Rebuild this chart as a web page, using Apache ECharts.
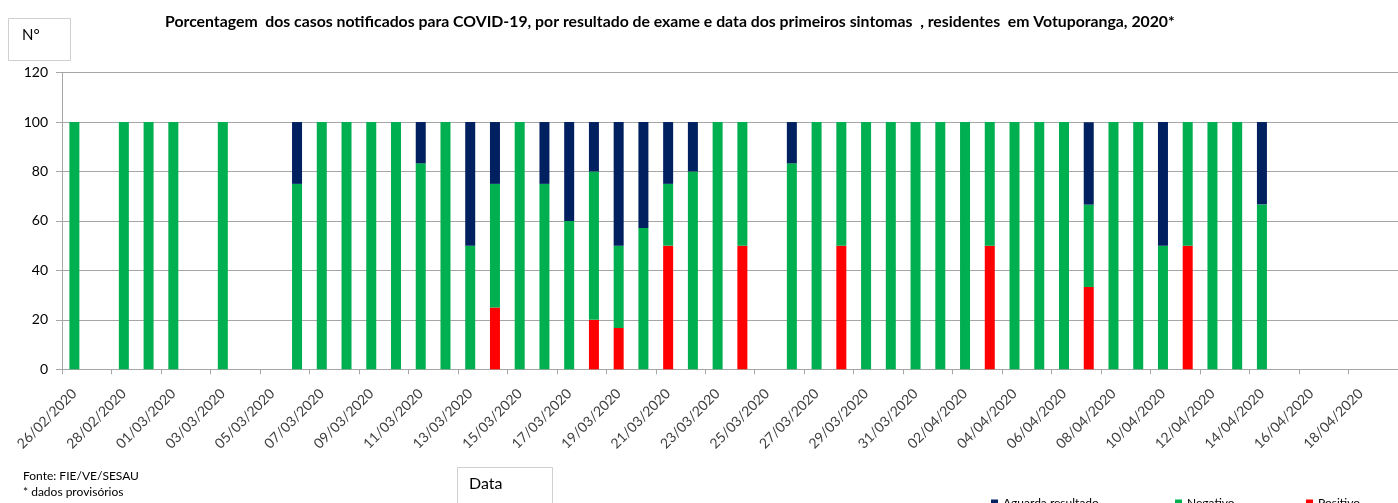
<!DOCTYPE html>
<html>
<head>
<meta charset="utf-8">
<script src="https://cdn.jsdelivr.net/npm/echarts@6/dist/echarts.min.js"></script>
<style>html,body{margin:0;padding:0;background:#fff;}#c{width:1398px;height:503px;}</style>
</head>
<body>
<div id="c"></div>
<script>
const categories = [
 "26/02/2020","27/02/2020","28/02/2020","29/02/2020",
 "01/03/2020","02/03/2020","03/03/2020","04/03/2020","05/03/2020","06/03/2020","07/03/2020","08/03/2020","09/03/2020","10/03/2020",
 "11/03/2020","12/03/2020","13/03/2020","14/03/2020","15/03/2020","16/03/2020","17/03/2020","18/03/2020","19/03/2020","20/03/2020",
 "21/03/2020","22/03/2020","23/03/2020","24/03/2020","25/03/2020","26/03/2020","27/03/2020","28/03/2020","29/03/2020","30/03/2020","31/03/2020",
 "01/04/2020","02/04/2020","03/04/2020","04/04/2020","05/04/2020","06/04/2020","07/04/2020","08/04/2020","09/04/2020","10/04/2020",
 "11/04/2020","12/04/2020","13/04/2020","14/04/2020","15/04/2020","16/04/2020","17/04/2020","18/04/2020","19/04/2020"
];
const positivo = [
 null,null,null,null,
 null,null,null,null,null,null,null,null,null,null,
 null,null,null,25,null,null,null,20,16.7,null,
 50,null,null,50,null,null,null,50,null,null,null,
 null,null,50,null,null,null,33.3,null,null,null,
 50,null,null,null,null,null,null,null,null
];
const negativo = [
 100,null,100,100,
 100,null,100,null,null,75,100,100,100,100,
 83.3,100,50,50,100,75,60,60,33.3,57.1,
 25,80,100,50,null,83.3,100,50,100,100,100,
 100,100,50,100,100,100,33.3,100,100,50,
 50,100,100,66.7,null,null,null,null,null
];
const aguarda = [
 null,null,null,null,
 null,null,null,null,null,25,null,null,null,null,
 16.7,null,50,25,null,25,40,20,50,42.9,
 25,20,null,null,null,16.7,null,null,null,null,null,
 null,null,null,null,null,null,33.3,null,null,50,
 null,null,null,33.3,null,null,null,null,null
];
const yTicks = [0,20,40,60,80,100,120];

const chart = echarts.init(document.getElementById('c'), null, {renderer:'canvas'});
const fontFam = 'Lato, "Open Sans", sans-serif';
const legendText = {fontFamily:fontFam, fontSize:12, color:'#000'};
chart.setOption({
  animation:false,
  backgroundColor:'#fff',
  title:{
    text:'Porcentagem  dos casos notificados para COVID-19, por resultado de exame e data dos primeiros sintomas  , residentes  em Votuporanga, 2020*',
    left:160, top:9,
    textStyle:{fontFamily:fontFam, fontWeight:'bold', fontSize:15.8, color:'#000'}
  },
  legend:[
    {left:986, top:492, itemWidth:7, itemHeight:7, icon:'rect', textStyle:legendText, data:['Aguarda resultado']},
    {left:1170, top:492, itemWidth:7, itemHeight:7, icon:'rect', textStyle:legendText, data:['Negativo']},
    {left:1301, top:492, itemWidth:7, itemHeight:7, icon:'rect', textStyle:legendText, data:['Positivo']}
  ],
  grid:{left:62, right:-10, top:72.6, bottom:133.7, containLabel:false},
  xAxis:{
    type:'category', data:categories, boundaryGap:true,
    axisLine:{lineStyle:{color:'#a6a6a6', width:1}},
    axisTick:{show:true, interval:1, alignWithLabel:false, length:5, lineStyle:{color:'#a6a6a6'}},
    axisLabel:{interval:1, rotate:45, margin:22, fontFamily:fontFam, fontSize:14, color:'#404040'},
    splitLine:{show:false}
  },
  yAxis:{
    type:'value', min:yTicks[0], max:yTicks[yTicks.length-1], interval:20,
    axisLine:{show:true, lineStyle:{color:'#a6a6a6'}},
    axisTick:{show:true, length:6, lineStyle:{color:'#a6a6a6'}},
    axisLabel:{margin:14, fontFamily:fontFam, fontSize:14, color:'#000'},
    splitLine:{lineStyle:{color:'#a6a6a6', width:1}}
  },
  series:[
    {name:'Positivo', type:'bar', stack:'t', data:positivo, barWidth:10, itemStyle:{color:'#FF0000'}},
    {name:'Negativo', type:'bar', stack:'t', data:negativo, barWidth:10, itemStyle:{color:'#00B050'}},
    {name:'Aguarda resultado', type:'bar', stack:'t', data:aguarda, barWidth:10, itemStyle:{color:'#002060'}}
  ],
  graphic:[
    {type:'rect', shape:{x:8.5, y:18.5, width:62, height:42}, style:{fill:'#fff', stroke:'#d0d0d0', lineWidth:1}},
    {type:'text', left:22, top:28, style:{text:'N°', fontFamily:fontFam, fontSize:15, fill:'#000'}},
    {type:'rect', shape:{x:457.5, y:467.5, width:95, height:40}, style:{fill:'#fff', stroke:'#d0d0d0', lineWidth:1}},
    {type:'text', left:469, top:476, style:{text:'Data', fontFamily:fontFam, fontSize:16, fill:'#000'}},
    {type:'text', left:23, top:470, style:{text:'Fonte: FIE/VE/SESAU', fontFamily:fontFam, fontSize:12, fill:'#000'}},
    {type:'text', left:23, top:486, style:{text:'* dados provisórios', fontFamily:fontFam, fontSize:12, fill:'#000'}}
  ]
});
</script>
</body>
</html>
